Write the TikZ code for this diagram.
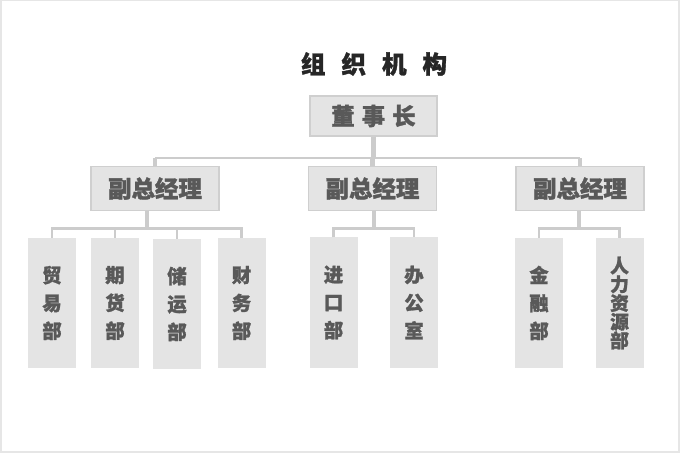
\documentclass[tikz,border=0pt]{standalone}
\usepackage{fontspec}
\newfontfamily\cjk{Noto Sans CJK SC}[BoldFeatures={FakeBold=1.3}]
\usetikzlibrary{calc}
\definecolor{boxfill}{HTML}{E4E4E4}
\definecolor{boxline}{HTML}{CFCFCF}
\definecolor{linegray}{HTML}{CCCCCC}
\definecolor{txtgray}{HTML}{595959}
\definecolor{framegray}{HTML}{E6E6E6}
\tikzset{
  toptitle/.style={font=\cjk\bfseries\fontsize{21}{24}\selectfont, text=black!85},
  headbox/.style={draw=boxline, line width=1pt, fill=boxfill, minimum width=3.81cm,
    minimum height=1.2cm, inner sep=0pt, text=txtgray,
    font=\cjk\bfseries\fontsize{20}{24}\selectfont},
  vpbox/.style={headbox, minimum width=3.84cm, minimum height=1.3cm,
    font=\cjk\bfseries\fontsize{20}{24}\selectfont},
  deptbox/.style={fill=boxfill, minimum width=1.44cm, minimum height=3.9cm,
    inner sep=0pt, align=center, text=txtgray,
    font=\cjk\bfseries\fontsize{16.5}{23.8}\selectfont},
  tightbox/.style={deptbox, font={\cjk\bfseries\fontsize{16}{16}\selectfont\lineskiplimit-5pt}},
  conn/.style={draw=linegray, line width=2.2pt},
  stub/.style={draw=linegray, line width=3.6pt},
}
\begin{document}
\begin{tikzpicture}[x=0.03cm, y=-0.03cm]
    \useasboundingbox (0,0) rectangle (680,453);
    % 外框
    \fill[framegray] (0,0) rectangle (680,453);
    \fill[white] (2,1.5) rectangle (677.5,450.5);
    % 标题
    \node[toptitle] (title) at (374,64) {组\hspace{13.6pt}织\hspace{13.6pt}机\hspace{13.6pt}构};
    % 董事长与副总经理
    \node[headbox] (dsz) at (373.5,116) {董\hspace{6pt}事\hspace{6pt}长};
    \node[vpbox] (vpa) at (155,188.5) {副总经理};
    \node[vpbox] (vpb) at (372.5,188.5) {副总经理};
    \node[vpbox] (vpc) at (580,188.5) {副总经理};
    % 各部门
    \node[deptbox] (maoyi) at (52,303) {贸\\易\\部};
    \node[deptbox] (qihuo) at (115,303) {期\\货\\部};
    \node[deptbox] (chuyun) at (177,304) {储\\运\\部};
    \node[deptbox] (caiwu) at (241.5,303) {财\\务\\部};
    \node[deptbox] (jinkou) at (333.5,302.5) {进\\口\\部};
    \node[deptbox] (bangong) at (414,302.5) {办\\公\\室};
    \node[deptbox] (jinrong) at (539,303) {金\\融\\部};
    \node[tightbox] (renli) at (619.5,303) {人\\力\\资\\源\\部};
    % 连线
    \coordinate (bus0) at (0,158);
    \coordinate (bus1) at (0,228.5);
    \draw[conn] (vpa.north |- bus0) -- (vpc.north |- bus0);
    \draw[stub] (dsz.south) -- (dsz.south |- bus0);
    \draw[stub] (vpa.north) -- (vpa.north |- bus0);
    \draw[stub] (vpb.north) -- (vpb.north |- bus0);
    \draw[stub] (vpc.north) -- (vpc.north |- bus0);
    \coordinate (ma) at ($(maoyi.north)!.5!(caiwu.north)$);
    \coordinate (mb) at ($(jinkou.north)!.5!(bangong.north)$);
    \coordinate (mc) at ($(jinrong.north)!.5!(renli.north)$);
    \draw[conn] (maoyi.north) -- (maoyi.north |- bus1) -- (caiwu.north |- bus1) -- (caiwu.north);
    \draw[conn] (qihuo.north) -- (qihuo.north |- bus1);
    \draw[conn] (chuyun.north) -- (chuyun.north |- bus1);
    \draw[conn] (jinkou.north) -- (jinkou.north |- bus1) -- (bangong.north |- bus1) -- (bangong.north);
    \draw[conn] (jinrong.north) -- (jinrong.north |- bus1) -- (renli.north |- bus1) -- (renli.north);
    \draw[stub] (ma |- vpa.south) -- (ma |- bus1);
    \draw[stub] (mb |- vpb.south) -- (mb |- bus1);
    \draw[stub] (mc |- vpc.south) -- (mc |- bus1);
\end{tikzpicture}
\end{document}
